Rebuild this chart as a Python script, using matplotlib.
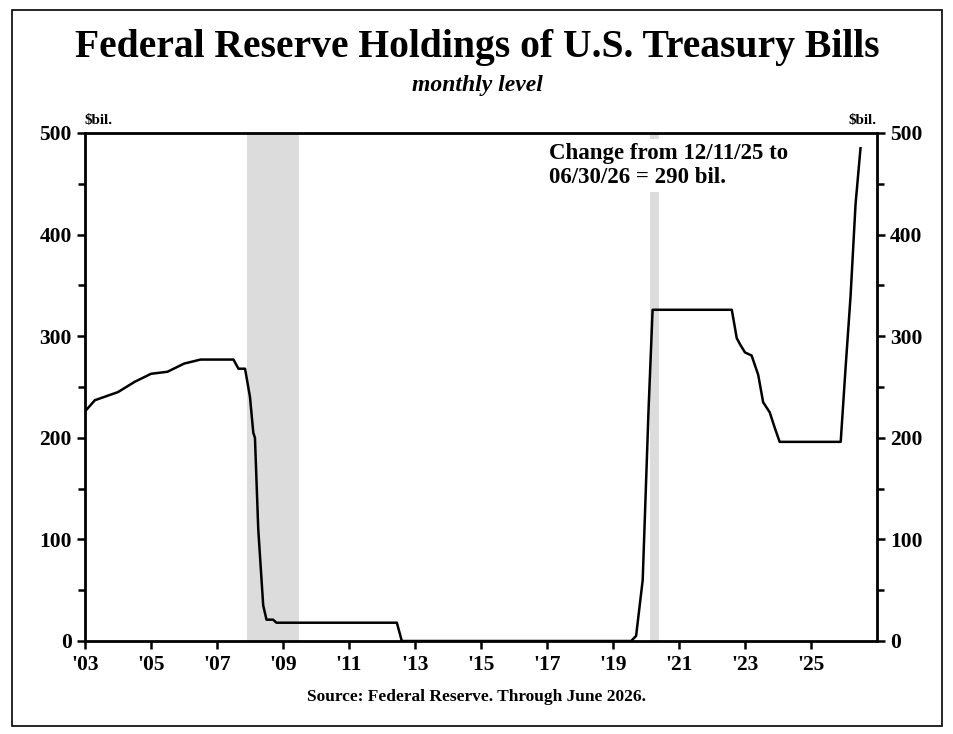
import matplotlib.pyplot as plt
from matplotlib.ticker import MultipleLocator
from matplotlib.patches import Rectangle

# === DATA ===
t = [2003.0, 2003.3, 2004.0, 2004.5, 2005.0, 2005.5, 2006.0, 2006.5, 2007.5, 2007.65,
     2007.85, 2008.0, 2008.1, 2008.15, 2008.25, 2008.4, 2008.5, 2008.7, 2008.8, 2012.45,
     2012.6, 2019.55, 2019.7, 2019.9, 2020.08, 2020.2, 2022.6, 2022.75, 2022.85, 2023.0,
     2023.2, 2023.4, 2023.55, 2023.75, 2023.9, 2024.05, 2024.25, 2025.9, 2026.05, 2026.2,
     2026.35, 2026.5]
level = [226, 237, 245, 255, 263, 265, 273, 277, 277, 268,
         268, 240, 205, 200, 110, 35, 21, 21, 18, 18,
         0, 0, 5, 60, 230, 326, 326, 298, 292, 284,
         281, 262, 235, 225, 210, 196, 196, 196, 270, 340,
         430, 485]
recessions = [(2007.92, 2009.5), (2020.12, 2020.38)]
year_ticks = list(range(2003, 2027, 2))
year_labels = ["'%02d" % (y % 100) for y in year_ticks]

plt.rcParams["font.family"] = ["Liberation Serif", "DejaVu Serif"]
plt.rcParams["font.weight"] = "bold"

fig = plt.figure(figsize=(9.54, 7.34), dpi=100)
ax = fig.add_axes([85 / 954, 1 - 641 / 734, (877 - 85) / 954, (641 - 133) / 734])

for a, b in recessions:
    ax.axvspan(a, b, color="#dcdcdc", lw=0, zorder=0)
ax.plot(t, level, color="black", lw=1.8, zorder=3)

ax.set_xlim(2003, 2027)
ax.set_ylim(0, 500)
ax.set_xticks(year_ticks)
ax.set_xticklabels(year_labels)
ax.yaxis.set_major_locator(MultipleLocator(100))
ax.yaxis.set_minor_locator(MultipleLocator(50))
ax.tick_params(axis="both", which="both", direction="out", width=1.8, labelsize=15.5,
               right=True, labelright=True)
ax.tick_params(axis="both", which="major", length=6)
ax.tick_params(axis="y", which="minor", length=5)
ax.tick_params(axis="x", pad=4)
for s in ax.spines.values():
    s.set_linewidth(2)

ax.text(0.0, 1.012, "$bil.", transform=ax.transAxes, fontsize=11, ha="left", va="bottom")
ax.text(1.0, 1.012, "$bil.", transform=ax.transAxes, fontsize=11, ha="right", va="bottom")

ax.text(2017.05, 490, "Change from 12/11/25 to\n06/30/26 = 290 bil.", fontsize=16.5,
        ha="left", va="top", linespacing=1.2, zorder=4,
        bbox=dict(facecolor="white", edgecolor="none", pad=3))

fig.text(0.5, 1 - 47 / 734, "Federal Reserve Holdings of U.S. Treasury Bills",
         ha="center", va="center", fontsize=28.5)
fig.text(0.5, 1 - 86 / 734, "monthly level", ha="center", va="center",
         fontsize=17, style="italic")
fig.text(0.5, 1 - 697 / 734, "Source: Federal Reserve. Through June 2026.",
         ha="center", va="center", fontsize=12.5)

fig.patches.append(Rectangle((12 / 954, 1 - 726 / 734), 930 / 954, 716 / 734,
                             transform=fig.transFigure, fill=False, lw=1.2,
                             edgecolor="black"))

fig.savefig("out.png", dpi=100)
